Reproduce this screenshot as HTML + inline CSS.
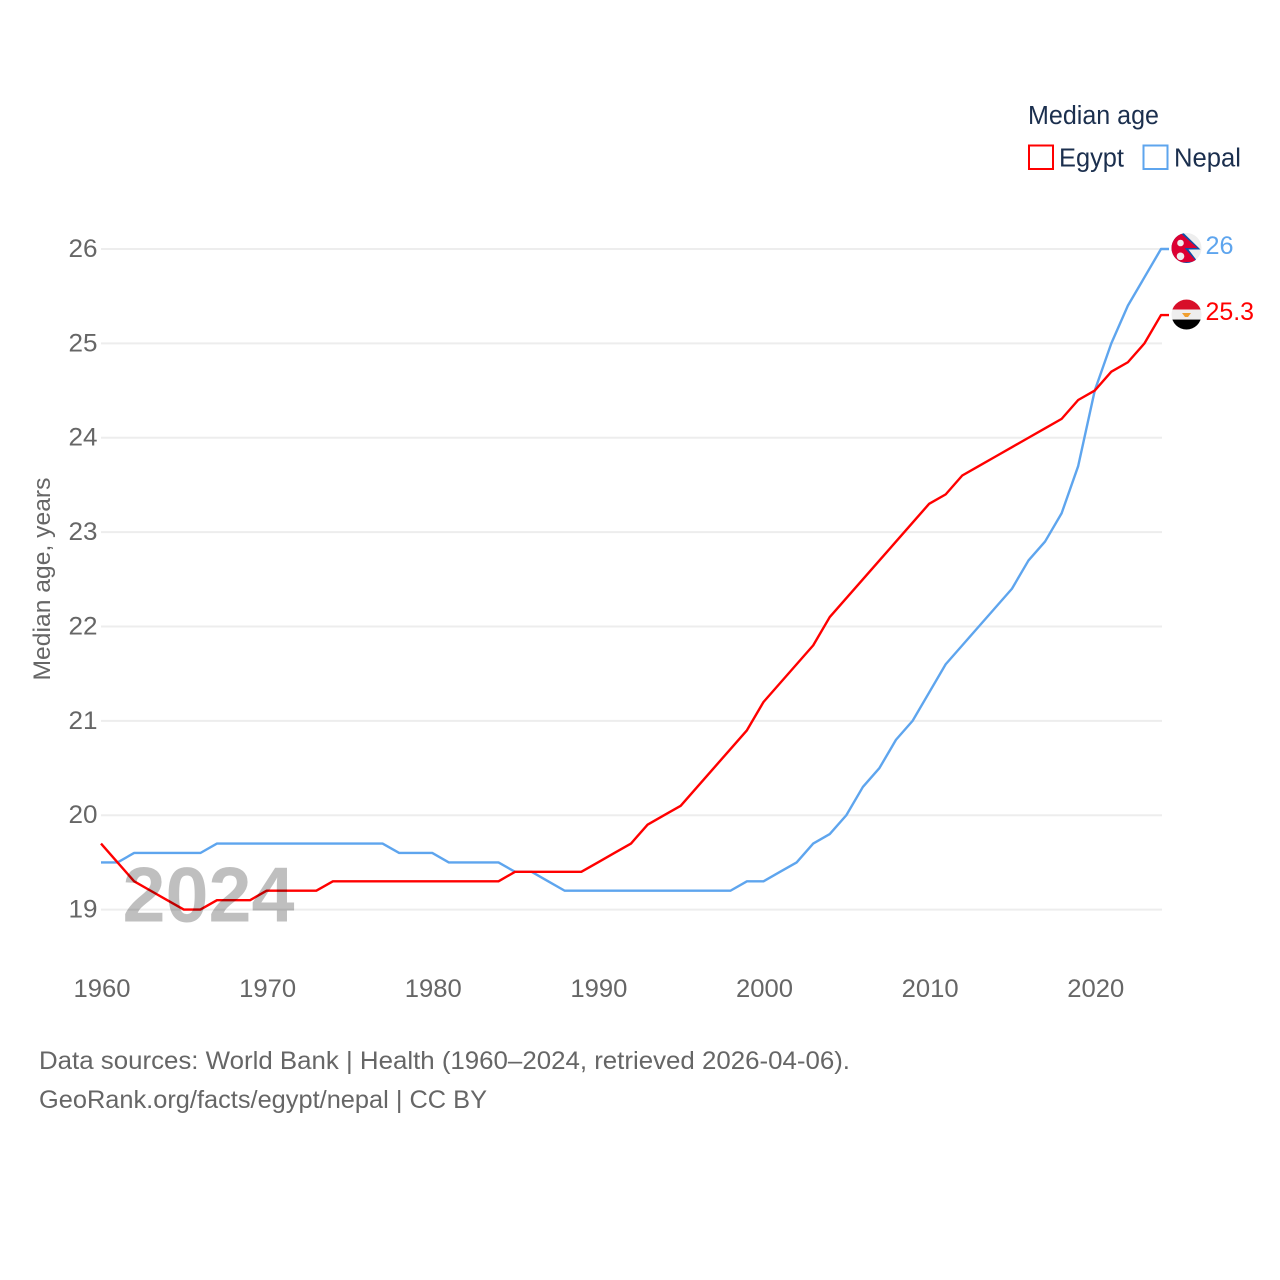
<!DOCTYPE html>
<html lang="en">
<head>
<meta charset="utf-8">
<title>Median age: Egypt and Nepal</title>
<style>
html,body{margin:0;padding:0;background:#fff;}
svg{display:block;font-family:"Liberation Sans",sans-serif;}
</style>
</head>
<body>
<svg id="chart" xmlns="http://www.w3.org/2000/svg" width="1280" height="1280" viewBox="0 0 1280 1280">
  <defs>
    <clipPath id="clip-nepal"><circle cx="0" cy="0" r="15"></circle></clipPath>
    <clipPath id="clip-egypt"><circle cx="0" cy="0" r="15"></circle></clipPath>
  </defs>
  <rect x="0" y="0" width="1280" height="1280" fill="#ffffff"></rect>

  <g id="grid"></g>
  <g id="y-ticks"></g>
  <g id="x-ticks"></g>

  <text transform="translate(50,579) rotate(-90)" text-anchor="middle" font-size="24.5" fill="#666666" textLength="203" lengthAdjust="spacingAndGlyphs">Median age, years</text>

  <g id="series"></g>
  <g id="end-markers"></g>

  <text x="122.5" y="921.5" font-size="78" font-weight="700" fill="#000000" fill-opacity="0.25" textLength="172" lengthAdjust="spacingAndGlyphs">2024</text>

  <g>
    <text x="1028" y="124" font-size="25.5" fill="#1b2f4e" textLength="131" lengthAdjust="spacingAndGlyphs">Median age</text>
    <rect x="1029" y="145.5" width="24" height="23.5" fill="none" stroke="#ff0000" stroke-width="2"></rect>
    <text x="1059" y="166.5" font-size="25.5" fill="#1b2f4e" textLength="65" lengthAdjust="spacingAndGlyphs">Egypt</text>
    <rect x="1143.5" y="145.5" width="24" height="23.5" fill="none" stroke="#5ea5ee" stroke-width="2"></rect>
    <text x="1174" y="166.5" font-size="25.5" fill="#1b2f4e" textLength="67" lengthAdjust="spacingAndGlyphs">Nepal</text>
  </g>

  <text x="39" y="1069" font-size="25" fill="#666666" textLength="811" lengthAdjust="spacingAndGlyphs">Data sources: World Bank | Health (1960–2024, retrieved 2026-04-06).</text>
  <text x="39" y="1108" font-size="25" fill="#666666" textLength="448" lengthAdjust="spacingAndGlyphs">GeoRank.org/facts/egypt/nepal | CC BY</text>
</svg>

<script>
const years = [1960,1961,1962,1963,1964,1965,1966,1967,1968,1969,1970,1971,1972,1973,1974,1975,1976,1977,1978,1979,1980,1981,1982,1983,1984,1985,1986,1987,1988,1989,1990,1991,1992,1993,1994,1995,1996,1997,1998,1999,2000,2001,2002,2003,2004,2005,2006,2007,2008,2009,2010,2011,2012,2013,2014,2015,2016,2017,2018,2019,2020,2021,2022,2023,2024];
const egyptValues = [19.7,19.5,19.3,19.2,19.1,19.0,19.0,19.1,19.1,19.1,19.2,19.2,19.2,19.2,19.3,19.3,19.3,19.3,19.3,19.3,19.3,19.3,19.3,19.3,19.3,19.4,19.4,19.4,19.4,19.4,19.5,19.6,19.7,19.9,20.0,20.1,20.3,20.5,20.7,20.9,21.2,21.4,21.6,21.8,22.1,22.3,22.5,22.7,22.9,23.1,23.3,23.4,23.6,23.7,23.8,23.9,24.0,24.1,24.2,24.4,24.5,24.7,24.8,25.0,25.3];
const nepalValues = [19.5,19.5,19.6,19.6,19.6,19.6,19.6,19.7,19.7,19.7,19.7,19.7,19.7,19.7,19.7,19.7,19.7,19.7,19.6,19.6,19.6,19.5,19.5,19.5,19.5,19.4,19.4,19.3,19.2,19.2,19.2,19.2,19.2,19.2,19.2,19.2,19.2,19.2,19.2,19.3,19.3,19.4,19.5,19.7,19.8,20.0,20.3,20.5,20.8,21.0,21.3,21.6,21.8,22.0,22.2,22.4,22.7,22.9,23.2,23.7,24.5,25.0,25.4,25.7,26.0];
const yTickValues = [19,20,21,22,23,24,25,26];
const xTickValues = [1960,1970,1980,1990,2000,2010,2020];
const egyptValueLabel = "25.3";
const nepalValueLabel = "26";

const NS = "http://www.w3.org/2000/svg";
const xScale = function (year) { return 101 + (year - 1960) * (1161 - 101) / 64; };
const yScale = function (value) { return 909.6 - (value - 19) * (909.6 - 249) / 7; };

function make(tag, attrs, parent) {
  const el = document.createElementNS(NS, tag);
  Object.keys(attrs).forEach(function (k) { el.setAttribute(k, attrs[k]); });
  parent.appendChild(el);
  return el;
}

const gridGroup = document.getElementById("grid");
const yTickGroup = document.getElementById("y-ticks");
yTickValues.forEach(function (value) {
  const line = make("line", { x1: 101, x2: 1162, y1: yScale(value), y2: yScale(value), stroke: "#ededed", "stroke-width": 2 }, gridGroup);
  
  
  const label = make("text", { x: 97.5, y: yScale(value) + 8, "text-anchor": "end", "font-size": 25, fill: "#666666", textLength: 29, lengthAdjust: "spacingAndGlyphs" }, yTickGroup);
  label.textContent = String(value);
  
  
});

const xTickGroup = document.getElementById("x-ticks");
xTickValues.forEach(function (year) {
  const label = make("text", { x: xScale(year) + 1, y: 997, "text-anchor": "middle", "font-size": 25, fill: "#666666", textLength: 57, lengthAdjust: "spacingAndGlyphs" }, xTickGroup);
  label.textContent = String(year);
  
  
});

function linePath(values) {
  let d = "";
  values.forEach(function (value, i) {
    d += (i === 0 ? "M" : "L") + xScale(years[i]).toFixed(2) + " " + yScale(value).toFixed(2);
  });
  d += "L" + (xScale(years[years.length - 1]) + 8).toFixed(2) + " " + yScale(values[values.length - 1]).toFixed(2);
  return d;
}

const seriesGroup = document.getElementById("series");
const nepalLine = make("path", { d: linePath(nepalValues), fill: "none", stroke: "#5ea5ee", "stroke-width": 2.4, "stroke-linejoin": "round" }, seriesGroup);


const egyptLine = make("path", { d: linePath(egyptValues), fill: "none", stroke: "#ff0000", "stroke-width": 2.4, "stroke-linejoin": "round" }, seriesGroup);



const markerGroup = document.getElementById("end-markers");
const flagX = xScale(2024) + 25.5;

const nepalY = yScale(nepalValues[nepalValues.length - 1]) - 1;
const nepalFlag = make("g", { transform: "translate(" + flagX + "," + nepalY + ")" }, markerGroup);


const nepalClip = make("g", { "clip-path": "url(#clip-nepal)" }, nepalFlag);
make("rect", { x: -15, y: -15, width: 30, height: 30, fill: "#eeeeee" }, nepalClip);
make("path", { d: "M-15 -16 L-4 -16 L14 1.5 L2 1.5 L13 16 L-15 16 Z", fill: "#0d4fa8" }, nepalClip);
make("path", { d: "M-15 -15 L-5 -14 L11 0 L-2 0 L10 13.5 L-15 15 Z", fill: "#dc0032" }, nepalClip);
make("circle", { cx: -6, cy: -5, r: 3.3, fill: "#eeeeee" }, nepalClip);
make("circle", { cx: -6, cy: 8.3, r: 3.8, fill: "#eeeeee" }, nepalClip);

const egyptY = yScale(egyptValues[egyptValues.length - 1]) - 0.5;
const egyptFlag = make("g", { transform: "translate(" + flagX + "," + egyptY + ")" }, markerGroup);


const egyptClip = make("g", { "clip-path": "url(#clip-egypt)" }, egyptFlag);
make("rect", { x: -15, y: -15, width: 30, height: 10, fill: "#d80f2a" }, egyptClip);
make("rect", { x: -15, y: -5, width: 30, height: 10, fill: "#eeeeee" }, egyptClip);
make("rect", { x: -15, y: 5, width: 30, height: 10, fill: "#000000" }, egyptClip);
make("path", { d: "M-4.5 -1.5 L4.5 -1.5 L1.5 2.5 L-1.5 2.5 Z", fill: "#f0a030" }, egyptClip);

const nepalText = make("text", { x: 1205.5, y: yScale(nepalValues[nepalValues.length - 1]) + 5, "font-size": 25, fill: "#5ea5ee", textLength: 28, lengthAdjust: "spacingAndGlyphs" }, markerGroup);
nepalText.textContent = nepalValueLabel;



const egyptText = make("text", { x: 1205.5, y: yScale(egyptValues[egyptValues.length - 1]) + 5, "font-size": 25, fill: "#ff0000", textLength: 48.5, lengthAdjust: "spacingAndGlyphs" }, markerGroup);
egyptText.textContent = egyptValueLabel;


</script>
</body>
</html>
